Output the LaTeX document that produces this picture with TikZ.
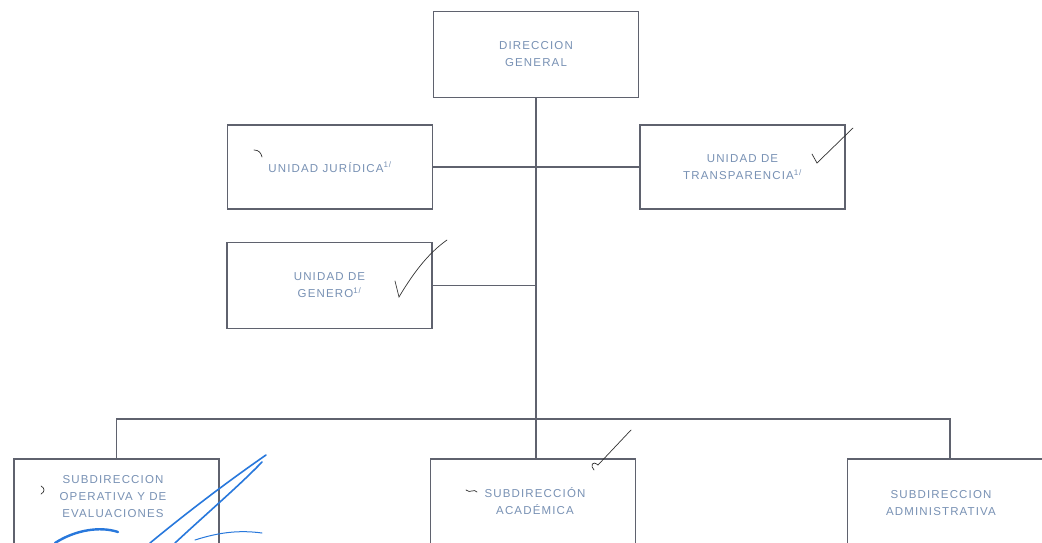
\documentclass[tikz,border=0pt]{standalone}
\usepackage{fontspec}
\setmainfont[LetterSpace=10]{Liberation Sans}
\definecolor{linegray}{RGB}{95,98,110}
\definecolor{txtblue}{RGB}{120,145,180}
\definecolor{sigblue}{RGB}{40,120,220}
\begin{document}
\begin{tikzpicture}[x=1pt,y=-1pt,
  box/.style={draw=linegray, line width=1.1pt, minimum width=205pt, minimum height=86pt, inner sep=0pt},
  lowbox/.style={box, minimum height=101pt},
  lbl/.style={text=txtblue, font=\fontsize{11.5}{17}\selectfont, align=center, inner sep=0pt},
  conn/.style={draw=linegray, line width=1.2pt},
  penmark/.style={draw=black!80, line width=0.7pt, line cap=round},
  sig/.style={draw=sigblue, line width=1.6pt, line cap=round}]
\useasboundingbox (0,0) rectangle (1042,543);
\clip (0,0) rectangle (1042,543);
\fill[white] (0,0) rectangle (1042,543);

% boxes
\node[box, lbl] (dg) at (536,54.5) {DIRECCION\\GENERAL};
\node[box, lbl, minimum height=84pt] (uj) at (330,167) {UNIDAD JURÍDICA\textsuperscript{1/}};
\node[box, lbl, minimum height=84pt] (ut) at (742.5,167) {UNIDAD DE\\TRANSPARENCIA\textsuperscript{1/}};
\node[box, lbl] (ug) at (329.5,285.5) {UNIDAD DE\\GENERO\textsuperscript{1/}};
\node[lowbox] (so) at (116.5,509.5) {};
\node[lowbox] (sa) at (533,509.5) {};
\node[lowbox] (sd) at (950,509.5) {};
\node[lbl] (sot) at (113,497) {SUBDIRECCION\\OPERATIVA Y DE\\EVALUACIONES};
\node[lbl] (sat) at (535,501) {SUBDIRECCIÓN\\ACADÉMICA};
\node[lbl] (sdt) at (941,503) {SUBDIRECCION\\ADMINISTRATIVA};

% connectors
\coordinate (bar) at (536,419);
\draw[conn] (dg.south) -- (bar);
\draw[conn] (uj.east) -- (uj.east -| ut.west);
\draw[conn] (ug.east) -- (ug.east -| dg.south);
\draw[conn] (so.north) -- (so.north |- bar) -- (sd.north |- bar) -- (sd.north);
\draw[conn] (bar) -- (bar |- sa.north);

% handwritten marks
\draw[penmark] (254,150) .. controls (259,150) and (261,153) .. (262,157);
\draw[penmark] (812,154) -- (817,163) -- (853,128);
\draw[penmark] (395,281) -- (399,297) .. controls (415,270) and (430,252) .. (447,240);
\draw[penmark] (598,465) -- (631,430);
\draw[penmark] (598,465) .. controls (592,460) and (590,466) .. (594,470);
\draw[penmark] (466,490) .. controls (470,494) and (474,488) .. (477,492);
\draw[penmark] (41,486) .. controls (45,488) and (45,492) .. (41,494);

% blue signature strokes
\draw[sig] (150,543) .. controls (190,510) and (230,480) .. (266,455);
\draw[sig] (175,543) .. controls (205,515) and (240,485) .. (262,462);
\draw[sig, line width=2.4pt] (55,543) .. controls (75,530) and (100,526) .. (118,532);
\draw[sig, line width=1pt] (195,540) .. controls (220,532) and (240,530) .. (262,533);
\end{tikzpicture}
\end{document}
